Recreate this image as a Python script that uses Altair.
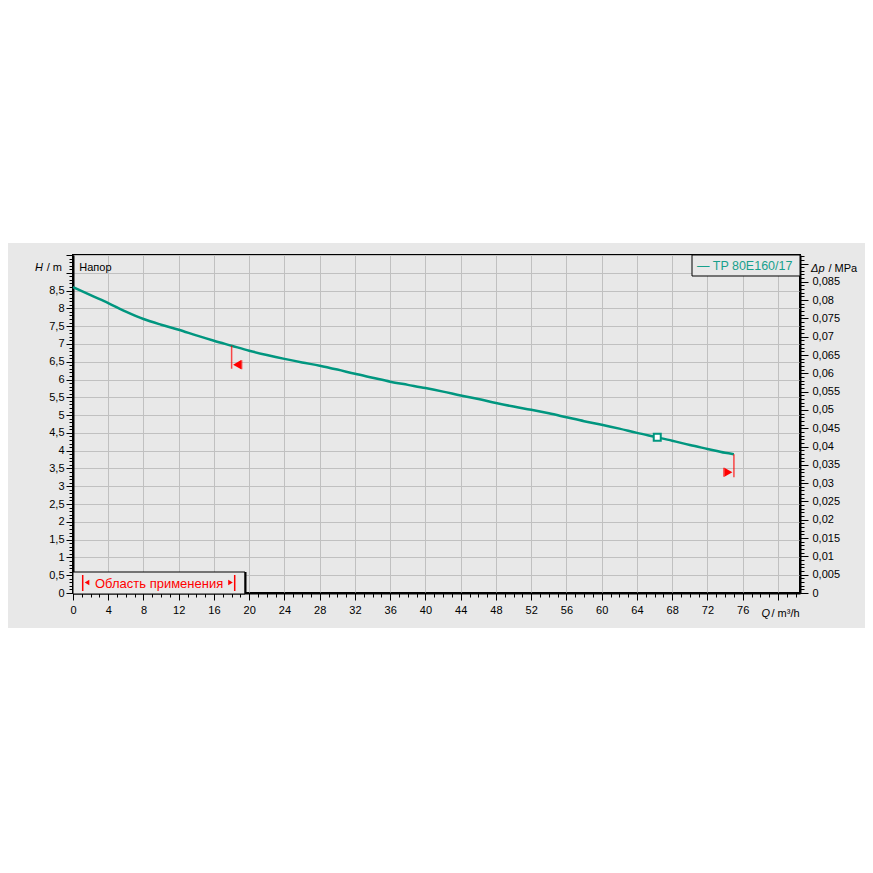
import altair as alt
import pandas as pd

# ---------------- data ----------------
q_values = [0, 2, 4, 6, 8, 10, 12, 14, 16, 18, 20, 22, 24, 26, 28, 30, 32, 34, 36, 38,
            40, 42, 44, 46, 48, 50, 52, 54, 56, 58, 60, 62, 64, 66, 68, 70, 72, 74, 75]
h_values = [8.60, 8.37, 8.15, 7.91, 7.70, 7.54, 7.40, 7.24, 7.09, 6.95, 6.81, 6.69, 6.58,
            6.48, 6.39, 6.28, 6.16, 6.05, 5.94, 5.85, 5.76, 5.66, 5.55, 5.45, 5.34, 5.24,
            5.15, 5.05, 4.94, 4.83, 4.73, 4.62, 4.50, 4.39, 4.28, 4.16, 4.05, 3.94, 3.90]
limit_left_q = [18]
limit_left_h = [6.95]
limit_right_q = [75]
limit_right_h = [3.90]
op_q = [66.3]
op_h = [4.38]
m_per_mpa = 102.9

x_ticks = list(range(0, 83))
y_ticks = [round(i * 0.1, 1) for i in range(0, 96)]
p_ticks = [round(i * 0.001, 3) for i in range(0, 93)]
p_ticks_in_m = [p * m_per_mpa for p in p_ticks]

series_name = "— TP 80E160/17"
range_label = "Область применения"

# ---------------- style ----------------
FONT = "Liberation Sans"
TEAL = "#00967f"
TEAL_TXT = "#17a08c"
GRID = "#c0c0c0"
BG = "#e8e8e8"
W, H = 727, 338

xscale = alt.Scale(domain=[0, 82.5], nice=False, zero=False)
yscale = alt.Scale(domain=[0, 9.5], nice=False, zero=False)

maj_x = "datum.value % 4 == 0"
maj_y = "abs(datum.value*2 - round(datum.value*2)) < 0.001"
maj_p = f"abs(datum.value/{m_per_mpa}*200 - round(datum.value/{m_per_mpa}*200)) < 0.01"

common = dict(tickColor="black", tickWidth=1, domainColor="black", domainWidth=2,
              labelOverlap=False, labelFlush=False, labelFont=FONT, labelFontSize=11,
              labelColor="black", title=None)

x_axis = alt.Axis(values=x_ticks, orient="bottom", grid=True, gridColor=GRID, gridWidth=1,
                  gridOpacity={"condition": {"test": maj_x, "value": 1}, "value": 0},
                  tickSize={"condition": {"test": maj_x, "value": 7}, "value": 4},
                  labelExpr=f"({maj_x}) && datum.value <= 76 ? datum.label : ''",
                  labelPadding=4, **common)
y_axis = alt.Axis(values=y_ticks, orient="left", grid=True, gridColor=GRID, gridWidth=1,
                  gridOpacity={"condition": {"test": maj_y, "value": 1}, "value": 0},
                  tickSize={"condition": {"test": maj_y, "value": 7}, "value": 4},
                  labelExpr=f"({maj_y}) && datum.value < 8.75 ? replace(format(datum.value, '~g'), '.', ',') : ''",
                  labelPadding=2, **common)
p_axis = alt.Axis(values=p_ticks_in_m, orient="right", grid=False,
                  tickSize={"condition": {"test": maj_p, "value": 8}, "value": 4},
                  labelExpr=f"({maj_p}) && datum.value < 0.0875*{m_per_mpa} ? replace(format(round(datum.value/{m_per_mpa}*1000)/1000, '~g'), '.', ',') : ''",
                  labelPadding=4, **common)

curve_df = pd.DataFrame({"Q": q_values, "H": h_values})
dummy = pd.DataFrame({"a": [0]})


def deco_rect(x, x2, y, y2, **kw):
    return alt.Chart(dummy).mark_rect(**kw).encode(
        x=alt.value(x), x2=alt.value(x2), y=alt.value(y), y2=alt.value(y2))


def deco_text(txt, x, y, **kw):
    base = dict(font=FONT, fontSize=11, color="black", baseline="middle", align="left")
    base.update(kw)
    return alt.Chart(dummy).mark_text(text=txt, **base).encode(x=alt.value(x), y=alt.value(y))


def deco_rule(x, x2, y, y2, **kw):
    return alt.Chart(dummy).mark_rule(**kw).encode(
        x=alt.value(x), x2=alt.value(x2), y=alt.value(y), y2=alt.value(y2))


# white areas above and below the grey band
cover_top = deco_rect(-65, 792, -247, -12, color="white")
cover_bot = deco_rect(-65, 792, 373, 610, color="white")

curve = alt.Chart(curve_df).mark_line(color=TEAL, strokeWidth=2.5, interpolate="monotone").encode(
    x=alt.X("Q:Q", scale=xscale, axis=x_axis),
    y=alt.Y("H:Q", scale=yscale, axis=y_axis),
)

right_axis_layer = alt.Chart(curve_df).mark_line(opacity=0).encode(
    x=alt.X("Q:Q", scale=xscale, axis=None),
    y=alt.Y("H:Q", scale=yscale, axis=p_axis),
)

left_df = pd.DataFrame({"Q": limit_left_q, "H": limit_left_h})
right_df = pd.DataFrame({"Q": limit_right_q, "H": limit_right_h})
op_df = pd.DataFrame({"Q": op_q, "H": op_h})


def enc(ch):
    return ch.encode(x=alt.X("Q:Q", scale=xscale, axis=None),
                     y=alt.Y("H:Q", scale=yscale, axis=None))


left_line = enc(alt.Chart(left_df).mark_tick(orient="vertical", color="red", size=23,
                                              thickness=1.5, yOffset=11.5))
left_tri = enc(alt.Chart(left_df).mark_point(shape="triangle-left", filled=True, color="red",
                                             size=85, opacity=1, xOffset=5.5, yOffset=19))
left_bar = enc(alt.Chart(left_df).mark_tick(orient="vertical", color="red", size=9,
                                             thickness=1.5, xOffset=10, yOffset=19))
right_line = enc(alt.Chart(right_df).mark_tick(orient="vertical", color="red", size=23,
                                                thickness=1.5, yOffset=11.5))
right_tri = enc(alt.Chart(right_df).mark_point(shape="triangle-right", filled=True, color="red",
                                               size=85, opacity=1, xOffset=-5.5, yOffset=18))
right_bar = enc(alt.Chart(right_df).mark_tick(orient="vertical", color="red", size=9,
                                               thickness=1.5, xOffset=-10, yOffset=18))
op_point = enc(alt.Chart(op_df).mark_point(shape="square", fill="white", stroke=TEAL,
                                           strokeWidth=2, size=49, opacity=1, fillOpacity=1))

# legend box (top right)
leg_box = deco_rect(619, 727, 0, 21, fill=BG, stroke="black", strokeWidth=1)
leg_txt = deco_text(series_name, 624, 10.5, fontSize=12.5, color=TEAL_TXT)

# range box (bottom left)
rng_box = deco_rect(0, 172, 317, 339, fill=BG, stroke="black", strokeWidth=1)
rng_shadow = deco_rule(172.5, 172.5, 317, 339, color="black", strokeWidth=2)
rng_txt = deco_text(range_label, 22, 328.5, fontSize=13, color="red")
rng_bar_l = deco_rule(9.7, 9.7, 320, 336, color="red", strokeWidth=1.5)
rng_bar_r = deco_rule(161.7, 161.7, 320, 336, color="red", strokeWidth=1.5)
rng_tri_l = alt.Chart(dummy).mark_point(shape="triangle-left", filled=True, color="red",
                                        size=28, opacity=1).encode(x=alt.value(14), y=alt.value(327.5))
rng_tri_r = alt.Chart(dummy).mark_point(shape="triangle-right", filled=True, color="red",
                                        size=28, opacity=1).encode(x=alt.value(157.5), y=alt.value(327.5))

# texts
t_napor = deco_text("Напор", 6.3, 13.3)
t_h = deco_text("H", -38, 13, fontStyle="italic")
t_hm = deco_text("/ m", -11, 13, align="right")
t_dp = deco_text("Δp", 738, 14, fontStyle="italic")
t_mpa = deco_text("/ MPa", 755.5, 14)
t_q = deco_text("Q", 688.5, 359, fontStyle="italic")
t_qu = deco_text("/ m³/h", 698.5, 359)

chart = alt.layer(
    curve, right_axis_layer, cover_top, cover_bot, left_line, left_tri, left_bar,
    right_line, right_tri, right_bar, op_point, leg_box, leg_txt, rng_box, rng_shadow,
    rng_txt, rng_bar_l, rng_bar_r, rng_tri_l, rng_tri_r, t_napor, t_h, t_hm, t_dp,
    t_mpa, t_q, t_qu,
).resolve_axis(x="independent", y="independent").properties(
    width=W, height=H,
    autosize=alt.AutoSizeParams(type="none"),
    padding={"left": 65, "top": 247, "right": 65, "bottom": 272},
    background=BG,
).configure_view(stroke="black", strokeWidth=2)

chart.save("out.html", embed_options={"renderer": "svg", "actions": False})
